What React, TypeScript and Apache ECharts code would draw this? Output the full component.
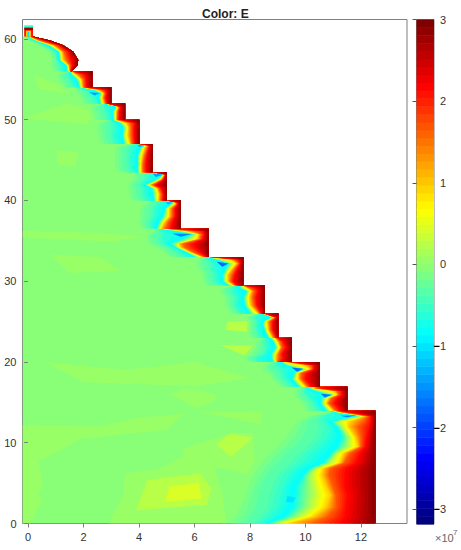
import React, { useEffect, useRef } from "react";
import * as echarts from "echarts";

const xTicks = [0, 2, 4, 6, 8, 10, 12];
const yTicks = [0, 10, 20, 30, 40, 50, 60];
const barTicks = [-3, -2, -1, 0, 1, 2, 3];
const valueMin = -3.18;
const valueMax = 3;
const leftEdge = -0.19;

// E-field level reached at each contour column of frontRows
const anchorValues = [0, -0.25, -0.55, -0.85, 0.1, 1.0, 1.6, 2.1, 2.9];

// [y, x of each contour in anchorValues order; the last one is the solid's edge]
const frontRows: number[][] = [
  [0, 7.0, 7.8, 8.4, 8.6, 8.9, 9.4, 10.3, 11.2, 12.52],
  [0.85, 7.2, 8.0, 8.7, 9.2, 9.7, 10.3, 10.8, 11.4, 12.52],
  [2, 7.4, 8.2, 9.0, 9.5, 10.1, 10.75, 11.1, 11.45, 12.52],
  [3.5, 7.6, 8.3, 9.1, 9.55, 10.2, 10.9, 11.1, 11.5, 12.52],
  [4.6, 7.7, 8.4, 9.2, 9.6, 10.2, 10.75, 11.0, 11.4, 12.52],
  [6, 7.9, 8.6, 9.4, 9.9, 10.15, 10.6, 10.85, 11.4, 12.52],
  [6.8, 8.0, 8.8, 9.6, 10.1, 10.35, 10.65, 10.9, 11.45, 12.52],
  [7.5, 8.1, 9.0, 9.9, 10.6, 10.85, 11.25, 11.4, 11.8, 12.52],
  [8.7, 8.4, 9.3, 10.2, 10.9, 11.1, 11.38, 11.6, 11.95, 12.52],
  [9.5, 8.7, 9.6, 10.5, 11.1, 11.5, 11.9, 12.0, 12.15, 12.52],
  [10.7, 9.0, 9.9, 10.8, 11.3, 11.55, 11.8, 12.0, 12.2, 12.52],
  [12, 9.3, 10.1, 10.9, 11.1, 11.3, 11.55, 11.9, 12.3, 12.52],
  [12.6, 9.4, 10.1, 10.7, 10.9, 11.1, 11.6, 12.1, 12.35, 12.52],
  [13.3, 10.0, 10.4, 10.7, 11.84, 12.05, 12.15, 12.25, 12.35, 12.52],
  [13.75, 10.7, 10.9, 11.0, 11.1, 11.2, 11.3, 11.4, 11.6, 12.52],
  [13.96, 10.8, 10.85, 10.9, 10.95, 11.0, 11.05, 11.1, 11.2, 12.52],
  [13.96, 9.9, 10.2, 10.5, 10.7, 10.85, 11.0, 11.1, 11.25, 11.51],
  [14.9, 9.8, 10.1, 10.35, 10.55, 10.62, 10.75, 10.85, 11.05, 11.51],
  [15.5, 9.6, 9.9, 10.2, 10.55, 10.7, 10.85, 10.95, 11.15, 11.51],
  [15.9, 9.5, 9.8, 10.1, 10.95, 11.05, 11.15, 11.2, 11.3, 11.51],
  [16.4, 9.5, 9.8, 10.0, 10.3, 10.5, 11.05, 11.15, 11.3, 11.51],
  [16.75, 9.7, 9.9, 10.0, 10.1, 10.2, 10.3, 10.4, 10.6, 11.51],
  [16.93, 9.9, 10.0, 10.1, 10.2, 10.3, 10.35, 10.4, 10.5, 11.51],
  [16.93, 9.0, 9.3, 9.6, 9.75, 9.85, 10.0, 10.1, 10.22, 10.52],
  [17.9, 8.7, 9.0, 9.3, 9.5, 9.6, 9.75, 9.85, 10.0, 10.52],
  [18.6, 8.6, 8.9, 9.2, 9.55, 9.65, 9.75, 9.85, 10.05, 10.52],
  [19.1, 8.3, 8.7, 9.2, 9.92, 10.02, 10.16, 10.25, 10.3, 10.52],
  [19.6, 8.4, 8.7, 9.0, 9.3, 9.4, 10.0, 10.2, 10.3, 10.52],
  [19.99, 8.8, 8.9, 9.0, 9.1, 9.2, 9.3, 9.4, 9.5, 10.52],
  [19.99, 7.8, 8.1, 8.3, 8.8, 8.9, 8.95, 9.0, 9.1, 9.51],
  [20.5, 7.7, 8.0, 8.25, 8.78, 8.85, 8.92, 9.05, 9.2, 9.51],
  [21, 7.9, 8.3, 8.55, 8.75, 8.85, 8.95, 9.05, 9.15, 9.51],
  [21.8, 8.1, 8.4, 8.65, 8.9, 9.0, 9.1, 9.15, 9.3, 9.51],
  [22.5, 8.1, 8.4, 8.6, 8.85, 8.9, 9.0, 9.1, 9.2, 9.51],
  [23, 8.4, 8.5, 8.6, 8.7, 8.8, 8.9, 8.95, 9.0, 9.51],
  [23, 7.9, 8.2, 8.4, 8.65, 8.72, 8.8, 8.88, 8.95, 9.02],
  [24, 7.9, 8.1, 8.3, 8.5, 8.56, 8.66, 8.74, 8.82, 9.02],
  [25, 7.9, 8.1, 8.3, 8.45, 8.52, 8.62, 8.72, 8.82, 9.02],
  [25.5, 7.8, 8.0, 8.2, 8.8, 8.84, 8.88, 8.92, 8.96, 9.02],
  [25.99, 8.2, 8.3, 8.4, 8.44, 8.46, 8.48, 8.5, 8.52, 9.02],
  [25.99, 7.2, 7.5, 7.7, 8.0, 8.1, 8.3, 8.36, 8.42, 8.54],
  [27, 7.0, 7.3, 7.5, 7.8, 7.9, 8.02, 8.15, 8.25, 8.54],
  [28, 7.0, 7.3, 7.55, 7.75, 7.85, 7.98, 8.1, 8.22, 8.54],
  [28.8, 6.8, 7.1, 7.4, 7.88, 7.95, 8.05, 8.15, 8.3, 8.54],
  [29.2, 7.0, 7.2, 7.4, 7.6, 7.7, 7.9, 8.0, 8.2, 8.54],
  [29.5, 7.5, 7.55, 7.6, 7.65, 7.7, 7.72, 7.74, 7.76, 8.54],
  [29.5, 6.3, 6.7, 7.0, 7.2, 7.3, 7.4, 7.46, 7.52, 7.76],
  [30, 6.2, 6.5, 6.8, 7.0, 7.1, 7.2, 7.3, 7.4, 7.76],
  [30.8, 6.2, 6.5, 6.8, 7.0, 7.1, 7.2, 7.35, 7.45, 7.76],
  [31.5, 6.0, 6.4, 6.7, 7.1, 7.2, 7.35, 7.45, 7.55, 7.76],
  [32.2, 5.9, 6.3, 6.7, 7.22, 7.35, 7.52, 7.6, 7.65, 7.76],
  [32.7, 6.0, 6.3, 6.5, 6.8, 6.9, 7.3, 7.45, 7.6, 7.76],
  [33, 6.3, 6.35, 6.4, 6.45, 6.48, 6.5, 6.55, 6.6, 7.76],
  [33, 5.0, 5.4, 5.7, 6.0, 6.15, 6.3, 6.36, 6.42, 6.51],
  [33.6, 4.8, 5.1, 5.5, 5.7, 5.75, 5.84, 5.95, 6.2, 6.51],
  [34.2, 4.5, 4.9, 5.2, 5.3, 5.4, 5.5, 5.65, 6.0, 6.51],
  [34.65, 4.2, 4.6, 4.9, 5.1, 5.3, 5.45, 5.6, 5.95, 6.51],
  [35.2, 4.2, 4.5, 4.9, 5.5, 5.8, 6.1, 6.2, 6.3, 6.51],
  [35.8, 4.2, 4.5, 4.9, 5.9, 6.05, 6.15, 6.25, 6.35, 6.51],
  [36.2, 4.5, 4.7, 4.8, 5.2, 5.5, 5.7, 6.0, 6.3, 6.51],
  [36.5, 4.6, 4.65, 4.7, 4.75, 4.8, 4.9, 5.0, 5.3, 6.51],
  [36.5, 4.0, 4.3, 4.5, 4.62, 4.7, 4.8, 4.95, 5.15, 5.5],
  [37.3, 3.9, 4.2, 4.45, 4.7, 4.8, 4.92, 5.05, 5.2, 5.5],
  [38, 3.9, 4.3, 4.6, 4.85, 4.95, 5.1, 5.2, 5.3, 5.5],
  [39, 3.9, 4.3, 4.6, 4.95, 5.0, 5.1, 5.2, 5.3, 5.5],
  [39.5, 4.0, 4.4, 4.7, 5.1, 5.2, 5.3, 5.35, 5.4, 5.5],
  [39.75, 4.2, 4.5, 4.75, 5.24, 5.28, 5.32, 5.36, 5.4, 5.5],
  [40, 4.7, 4.75, 4.8, 4.85, 4.9, 4.95, 4.97, 5.0, 5.5],
  [40, 3.6, 4.0, 4.3, 4.55, 4.6, 4.7, 4.78, 4.85, 5.0],
  [40.8, 3.5, 3.9, 4.2, 4.5, 4.58, 4.72, 4.8, 4.88, 5.0],
  [41.5, 3.5, 3.9, 4.2, 4.45, 4.55, 4.65, 4.72, 4.8, 5.0],
  [41.9, 3.5, 3.8, 4.1, 4.2, 4.3, 4.4, 4.5, 4.62, 5.0],
  [42.6, 3.7, 4.0, 4.3, 4.6, 4.7, 4.8, 4.84, 4.88, 5.0],
  [43.2, 3.7, 4.05, 4.35, 4.88, 4.9, 4.92, 4.94, 4.96, 5.0],
  [43.5, 4.2, 4.3, 4.4, 4.42, 4.44, 4.46, 4.47, 4.48, 5.0],
  [43.5, 3.1, 3.5, 3.8, 3.95, 4.0, 4.08, 4.15, 4.25, 4.49],
  [44.5, 3.0, 3.4, 3.7, 3.95, 4.0, 4.08, 4.15, 4.25, 4.49],
  [45.5, 3.0, 3.4, 3.7, 3.95, 4.0, 4.12, 4.2, 4.28, 4.49],
  [46.5, 3.0, 3.4, 3.75, 4.05, 4.1, 4.2, 4.3, 4.35, 4.49],
  [46.8, 3.2, 3.6, 3.8, 4.2, 4.25, 4.3, 4.33, 4.38, 4.49],
  [47, 3.85, 3.9, 3.92, 3.94, 3.96, 3.98, 4.0, 4.01, 4.49],
  [47, 2.5, 2.9, 3.2, 3.45, 3.55, 3.68, 3.75, 3.85, 4.01],
  [48, 2.4, 2.8, 3.1, 3.4, 3.45, 3.6, 3.72, 3.82, 4.01],
  [49, 2.3, 2.8, 3.15, 3.42, 3.52, 3.62, 3.72, 3.82, 4.01],
  [49.6, 2.4, 2.8, 3.1, 3.32, 3.4, 3.55, 3.7, 3.85, 4.01],
  [50, 2.9, 2.95, 3.0, 3.05, 3.1, 3.15, 3.25, 3.35, 4.01],
  [50, 2.3, 2.65, 2.95, 3.08, 3.12, 3.18, 3.22, 3.28, 3.5],
  [51, 2.2, 2.6, 2.9, 3.05, 3.1, 3.18, 3.24, 3.3, 3.5],
  [51.6, 2.1, 2.5, 2.8, 3.2, 3.22, 3.26, 3.3, 3.34, 3.5],
  [52, 2.7, 2.72, 2.75, 2.78, 2.8, 2.82, 2.84, 2.86, 3.5],
  [52, 1.9, 2.2, 2.5, 2.6, 2.65, 2.72, 2.8, 2.85, 3.0],
  [52.7, 1.8, 2.1, 2.4, 2.55, 2.6, 2.68, 2.74, 2.8, 3.0],
  [53.3, 1.6, 2.0, 2.25, 2.62, 2.66, 2.72, 2.78, 2.84, 3.0],
  [53.7, 1.6, 1.9, 2.1, 2.3, 2.4, 2.5, 2.65, 2.8, 3.0],
  [54, 1.7, 1.75, 1.8, 1.85, 1.9, 1.95, 2.0, 2.1, 3.0],
  [54, 1.2, 1.5, 1.7, 1.85, 1.9, 1.95, 2.02, 2.1, 2.32],
  [55, 1.0, 1.3, 1.55, 1.75, 1.82, 1.92, 2.0, 2.1, 2.32],
  [55.6, 1.0, 1.2, 1.45, 1.55, 1.62, 1.72, 1.85, 2.05, 2.32],
  [56, 1.45, 1.48, 1.5, 1.52, 1.54, 1.56, 1.58, 1.62, 2.32],
  [56, 0.9, 1.1, 1.25, 1.38, 1.45, 1.5, 1.52, 1.54, 1.57],
  [56.75, 0.7, 1.0, 1.2, 1.38, 1.42, 1.46, 1.52, 1.6, 1.78],
  [57.4, 0.8, 1.0, 1.05, 1.12, 1.18, 1.26, 1.4, 1.55, 1.81],
  [58.4, 0.7, 0.9, 1.0, 1.1, 1.15, 1.22, 1.3, 1.45, 1.63],
  [59.2, 0.3, 0.5, 0.6, 0.7, 0.8, 0.9, 1.0, 1.12, 1.27],
  [59.8, 0.0, 0.1, 0.2, 0.25, 0.3, 0.35, 0.45, 0.6, 0.8],
  [60.3, -0.15, -0.1, -0.05, 0, 0.02, 0.05, 0.08, 0.12, 0.18],
];

// Faint raised patches in the interior: value, then x,y pairs
const interiorPatches: [number, number[][]][] = [
  [0.1, [[-0.19, 12.2], [2.6, 12], [3.8, 13], [5.6, 13.6], [5, 11.6], [2.6, 10.75], [1.9, 10.5], [0.37, 7.65], [0.55, 4.55], [0.37, 3.7], [0.5, 2.7], [0.07, 0], [-0.19, 0]]],
  [0.1, [[2.9, 0], [3.44, 3.7], [3.5, 6.2], [4.76, 6.8], [5.6, 8.3], [5.6, 9.3], [7.3, 11.2], [8.1, 11.2], [8.2, 6], [6.7, 7], [7, 3.7], [7.16, 0]]],
  [0.22, [[3.9, 1.65], [4.3, 5.4], [6.2, 6.2], [6.6, 4.35], [6.45, 2.3]]],
  [0.42, [[4.95, 2.7], [5.1, 4.55], [6.15, 5], [6.26, 3.1]]],
  [0.1, [[5, 18.9], [6.2, 18.9], [5.6, 17.6]]],
  [0.1, [[5.1, 16], [5.65, 16.7], [6.7, 16.1], [6.8, 15.3], [6.1, 14.3]]],
  [0.1, [[6.2, 13.8], [8.4, 13.9], [8.4, 12.3]]],
  [0.22, [[6.8, 9.8], [7.3, 11.2], [8.1, 10.6], [7.3, 8.2]]],
  [0.1, [[0.6, 20], [3.5, 19], [6, 20], [8, 18], [6, 17], [2, 17.5]]],
  [0.1, [[0.8, 33.3], [2.6, 33], [3.3, 31.3], [1.5, 31]]],
  [0.1, [[-0.19, 36.2], [2.5, 36], [4.2, 35.5], [3, 34.9], [-0.19, 35.4]]],
  [0.1, [[1, 46.2], [1.8, 46], [1.7, 44.2], [1.1, 44.4]]],
  [0.1, [[-0.19, 50.2], [2.1, 49.4], [2.5, 51], [1.4, 52]]],
  [0.1, [[0.2, 55.6], [1, 54.4], [1.5, 53.1], [0.4, 53.8]]],
  [0.22, [[6.9, 22.1], [8.1, 22], [7.8, 20.8]]],
  [0.22, [[7.2, 25], [8.2, 25], [7.9, 23.7], [7.1, 24]]],
];

// Deep blue wedges and the small block over the tip: value, then x,y pairs
const overlayPatches: [number, number[][]][] = [
  [-1.6, [[11.25, 13.35], [11.84, 13.4], [11.5, 13.15]]],
  [-1.7, [[10.55, 16.05], [10.95, 15.95], [10.7, 15.6]]],
  [-1.7, [[9.5, 19.3], [9.92, 19.15], [9.7, 18.8]]],
  [-1.8, [[6.8, 32.4], [7.22, 32.2], [7.0, 31.8]]],
  [-1.6, [[5.2, 35.9], [5.9, 35.85], [5.5, 35.5]]],
  [-1.3, [[4.95, 39.8], [5.22, 39.75], [5.05, 39.5]]],
  [-1.4, [[4.5, 43.3], [4.88, 43.2], [4.6, 42.9]]],
  [-1.3, [[3.95, 46.9], [4.2, 46.8], [4.0, 46.6]]],
  [-1.4, [[2.2, 53.4], [2.58, 53.3], [2.4, 53.0]]],
  [-1.05, [[9.35, 3.4], [9.65, 3.2], [9.55, 2.6], [9.3, 2.7]]],
  [-0.5, [[-0.14, 61.4], [0.18, 61.4], [0.18, 61.7], [-0.14, 61.7]]],
  [2.9, [[-0.14, 61.1], [0.18, 61.1], [0.18, 61.4], [-0.14, 61.4]]],
  [2.1, [[-0.14, 60.3], [0.18, 60.3], [0.18, 61.1], [-0.14, 61.1]]],
  [0.8, [[-0.07, 60.3], [0.1, 60.3], [0.1, 61.0], [-0.07, 61.0]]],
  [-1, [[-0.03, 60.3], [0.05, 60.3], [0.05, 60.9], [-0.03, 60.9]]],
];

const LEVELS = 64;
function jet(value: number): string {
  const t = Math.max(0, Math.min(1, (value - valueMin) / (valueMax - valueMin)));
  const lvl = Math.min(LEVELS - 1, Math.floor(t * LEVELS)) / (LEVELS - 1);
  const c = (d: number) => Math.round(255 * Math.max(0, Math.min(1, 1.5 - Math.abs(4 * lvl - d))));
  return `rgb(${c(3)},${c(2)},${c(1)})`;
}

type Shape = { value: number; pts: number[][] };

function buildShapes(): Shape[] {
  const shapes: Shape[] = [];
  const n = anchorValues.length - 1;
  const up = frontRows;
  const down = [...frontRows].reverse();
  shapes.push({
    value: 0,
    pts: [...up.map((r) => [leftEdge, r[0]]), ...down.map((r) => [r[n + 1], r[0]])],
  });
  interiorPatches.forEach(([value, pts]) => shapes.push({ value, pts }));
  for (let k = 0; k < n; k++) {
    const v0 = anchorValues[k];
    const v1 = anchorValues[k + 1];
    const steps = Math.max(1, Math.ceil(Math.abs(v1 - v0) / 0.1));
    for (let s = 0; s < steps; s++) {
      const f = s / steps;
      shapes.push({
        value: v0 + (v1 - v0) * (f + 0.5 / steps),
        pts: [
          ...up.map((r) => [r[k + 1] + (r[k + 2] - r[k + 1]) * f, r[0]]),
          ...down.map((r) => [r[n + 1], r[0]]),
        ],
      });
    }
  }
  overlayPatches.forEach(([value, pts]) => shapes.push({ value, pts }));
  return shapes;
}

const barLevels = Array.from({ length: LEVELS }, (_, i) => i);

export default function App() {
  const ref = useRef<HTMLDivElement>(null);
  useEffect(() => {
    const chart = echarts.init(ref.current!, undefined, { renderer: "svg" });
    const shapes = buildShapes();
    const axisGrey = "#7f7f7f";
    const labelColor = "#333";
    const font = "Liberation Sans";
    const hiddenLabel = { show: false };
    chart.setOption({
      animation: false,
      backgroundColor: "#fff",
      title: {
        text: "Color: E",
        left: 197,
        top: 3,
        textStyle: { fontFamily: font, fontSize: 12, fontWeight: "bold", color: "#222" },
      },
      grid: [
        { left: 22.5, top: 19.5, width: 384.5, height: 504, show: true, borderColor: axisGrey, borderWidth: 1, backgroundColor: "#fff" },
        { left: 416.5, top: 19.5, width: 17.5, height: 504.5, show: true, borderColor: axisGrey, borderWidth: 1 },
      ],
      xAxis: [
        {
          type: "value", gridIndex: 0, min: -0.2, max: 13.66, position: "bottom", z: 5,
          splitLine: { show: false }, axisLine: { show: false },
          axisTick: { show: false, customValues: xTicks },
          axisLabel: { show: true, customValues: xTicks, margin: 8, fontSize: 11, fontFamily: font, color: labelColor },
        },
        {
          type: "value", gridIndex: 0, min: -0.2, max: 13.66, position: "top", z: 5,
          splitLine: { show: false }, axisLine: { show: false },
          axisTick: { show: true, inside: true, length: 4, customValues: xTicks, lineStyle: { color: axisGrey } },
          axisLabel: hiddenLabel,
        },
        {
          type: "value", gridIndex: 1, min: 0, max: 1, show: false,
        },
      ],
      yAxis: [
        {
          type: "value", gridIndex: 0, min: 0, max: 62.4, position: "left", z: 5,
          splitLine: { show: false }, axisLine: { show: false },
          axisTick: { show: false, customValues: yTicks },
          axisLabel: { show: true, customValues: yTicks, margin: 6, fontSize: 11, fontFamily: font, color: labelColor },
        },
        {
          type: "value", gridIndex: 0, min: 0, max: 62.4, position: "right", z: 5,
          splitLine: { show: false }, axisLine: { show: false },
          axisTick: { show: true, inside: true, length: 4, customValues: yTicks, lineStyle: { color: axisGrey } },
          axisLabel: hiddenLabel,
        },
        {
          type: "value", gridIndex: 1, min: valueMin, max: valueMax, position: "right", z: 5,
          splitLine: { show: false }, axisLine: { show: false },
          axisTick: { show: true, inside: true, length: 4, customValues: barTicks, lineStyle: { color: "#555" } },
          axisLabel: {
            show: true, customValues: barTicks, margin: 12, align: "right", fontSize: 11, fontFamily: font, color: labelColor,
            formatter: (v: number) => (v < 0 ? `{d|−}${Math.abs(v)}` : `${v}`),
            rich: { d: { fontSize: 11, fontWeight: "bold", color: "#000", fontFamily: font } },
          },
        },
      ],
      series: [
        {
          type: "custom", xAxisIndex: 0, yAxisIndex: 0, clip: true, silent: true,
          data: shapes.map((_, i) => [i]),
          renderItem: (params: any, api: any) => {
            const s = shapes[params.dataIndex];
            return {
              type: "polygon",
              shape: { points: s.pts.map((p) => api.coord(p)) },
              style: { fill: jet(s.value), stroke: null },
            };
          },
        },
        {
          type: "custom", xAxisIndex: 2, yAxisIndex: 2, silent: true,
          data: barLevels.map((i) => [i]),
          renderItem: (params: any, api: any) => {
            const i = params.dataIndex;
            const h = (valueMax - valueMin) / LEVELS;
            const lo = valueMin + i * h;
            const a = api.coord([0, lo + h]);
            const b = api.coord([1, lo]);
            return {
              type: "rect",
              shape: { x: a[0], y: a[1], width: b[0] - a[0], height: b[1] - a[1] + 0.5 },
              style: { fill: jet(lo + h / 2) },
            };
          },
        },
      ],
      graphic: [
        { type: "text", x: 435, y: 532, style: { text: "×10", fontSize: 11, fontFamily: font, fill: "#666" } },
        { type: "text", x: 453, y: 528, style: { text: "7", fontSize: 8, fontFamily: font, fill: "#666" } },
      ],
    });
    return () => chart.dispose();
  }, []);
  return <div ref={ref} style={{ position: "absolute", left: 0, top: 0, width: 461, height: 550 }} />;
}
